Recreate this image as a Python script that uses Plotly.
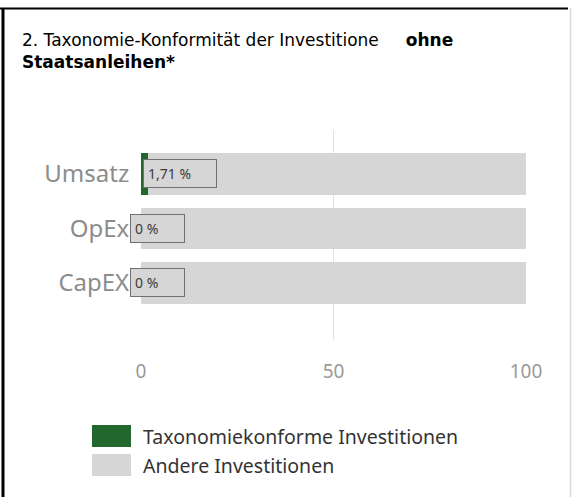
import plotly.graph_objects as go

categories = ["Umsatz", "OpEx", "CapEX"]
taxo_values = [1.71, 0, 0]
other_values = [98.29, 100, 100]
x_ticks = [0, 50, 100]
series_names = ["Taxonomiekonforme Investitionen", "Andere Investitionen"]
title_line1 = "2. Taxonomie-Konformität der Investitione"
title_bold = "ohne"
title_line2 = "Staatsanleihen*"

GREEN = "#23672f"
GRAY = "#d6d6d6"

W, H = 572, 497
ML, MR, MT, MB = 141, 46, 130, 157
PW = W - ML - MR
PH = H - MT - MB


def px(x):
    return (x - ML) / PW


def py(y):
    return (H - MB - y) / PH


fig = go.Figure()
fig.add_trace(go.Bar(y=categories, x=taxo_values, orientation="h", name=series_names[0],
                     marker=dict(color=GREEN, line=dict(width=0)), showlegend=False))
fig.add_trace(go.Bar(y=categories, x=other_values, orientation="h", name=series_names[1],
                     marker=dict(color=GRAY, line=dict(width=0)), showlegend=False))

annotations = []
for cat, v in zip(categories, taxo_values):
    txt = (f"{v:.2f}".replace(".", ",") if v else "0") + " %"
    annotations.append(dict(
        x=0, y=cat, xref="x", yref="y", text=txt, showarrow=False,
        xanchor="left", xshift=2 if v else -11,
        width=25 + 6.5 * len(txt), align="left",
        font=dict(family="Noto Sans", size=14, color="#3a3a3a"),
        bgcolor=GRAY,
        bordercolor="#707070", borderwidth=1, borderpad=4,
    ))

# custom legend
shapes = []
legend_y = [436, 465]
legend_colors = [GREEN, GRAY]
for name, yc, col in zip(series_names, legend_y, legend_colors):
    shapes.append(dict(type="rect", xref="paper", yref="paper",
                       x0=px(92), x1=px(131), y0=py(yc + 11), y1=py(yc - 11),
                       fillcolor=col, line=dict(width=0)))
    annotations.append(dict(x=px(141), y=py(yc), xref="paper", yref="paper",
                            text=name, showarrow=False, xanchor="left", yanchor="middle",
                            font=dict(family="Noto Sans", size=19.5, color="#333333")))

# frame lines
shapes.append(dict(type="line", xref="paper", yref="paper", x0=px(0), x1=px(568),
                   y0=py(8.5), y1=py(8.5), line=dict(color="black", width=2)))
shapes.append(dict(type="line", xref="paper", yref="paper", x0=px(3), x1=px(3),
                   y0=py(8), y1=py(497), line=dict(color="black", width=3)))
shapes.append(dict(type="line", xref="paper", yref="paper", x0=px(570.5), x1=px(570.5),
                   y0=py(8), y1=py(497), line=dict(color="#d8d8d8", width=1.5)))

fig.update_layout(
    width=W, height=H,
    margin=dict(l=ML, r=MR, t=MT, b=MB),
    paper_bgcolor="white", plot_bgcolor="white",
    barmode="stack", bargap=0.23,
    title=dict(
        text=f"{title_line1}     <b>{title_bold}</b><br><b>{title_line2}</b>",
        xref="container", yref="container", x=22 / W, xanchor="left",
        y=1 - 46 / H, yanchor="top",
        font=dict(family="Tahoma, DejaVu Sans, sans-serif", size=17, color="black"),
    ),
    xaxis=dict(range=[0, 100], tickvals=x_ticks, showgrid=True, gridcolor="#e2e2e2",
               gridwidth=1, zeroline=False, showline=False,
               tickfont=dict(family="Noto Sans", size=19, color="#999999"),
               ticklabelstandoff=18, fixedrange=True),
    yaxis=dict(range=[3.046, -0.807], showgrid=False, zeroline=False, showline=False,
               ticks="outside", ticklen=6, tickcolor="white",
               tickfont=dict(family="Noto Sans", size=24, color="#8c8c8c")),
    annotations=annotations,
    shapes=shapes,
    showlegend=False,
)

fig.write_html("out.html", config={"displayModeBar": False},
               post_script="document.body.style.margin='0';")
